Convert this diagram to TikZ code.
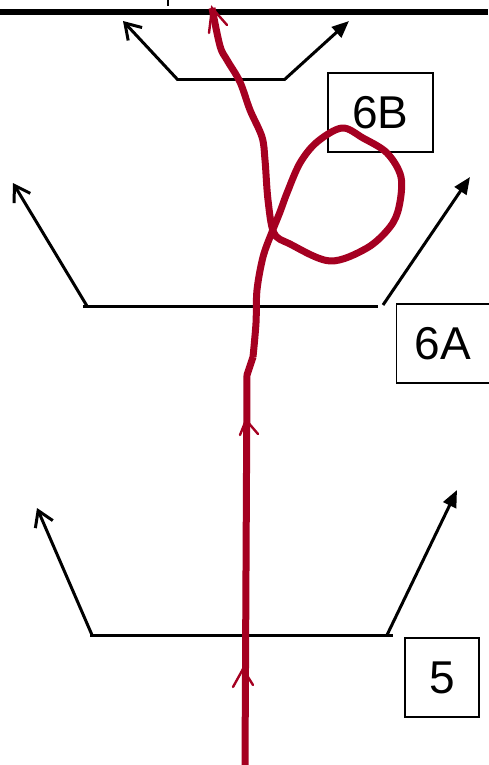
\documentclass[tikz,border=0pt]{standalone}
\usepackage{fontspec}
\setmainfont{Liberation Sans}
\usetikzlibrary{arrows.meta}
\definecolor{crim}{RGB}{165,0,33}
\begin{document}
\begin{tikzpicture}[x=1pt,y=-1pt,
  levelline/.style={line width=3pt,black},
  openarr/.style={line width=3pt,black,-{Straight Barb[length=15pt,width=19pt,line width=3pt]}},
  fillarr/.style={line width=3pt,black,-{Triangle[length=17pt,width=14pt]}},
  labelbox/.style={draw,line width=1.8pt,inner sep=0pt,font=\fontsize{46}{52}\selectfont},
  redpath/.style={line width=7pt,crim,line join=round},
  redbarb/.style={line width=2.4pt,crim,line cap=round}]
\useasboundingbox (0,0) rectangle (488,765);
% top bar and cut-off mark
\draw[line width=6pt] (0,12) -- (488,12);
\draw[line width=2.5pt] (168,0) -- (168,6);
% level 5
\coordinate (l5a) at (90,635); \coordinate (l5b) at (393,635);
\draw[levelline] (l5a) -- (l5b);
\coordinate (l5lt) at (37,508); \coordinate (l5rt) at (457,490);
\draw[openarr] (92,635) -- (l5lt);
\draw[fillarr] (387,635) -- (l5rt);
% level 6A
\coordinate (l6a) at (83,306); \coordinate (l6b) at (378,306);
\draw[levelline] (l6a) -- (l6b);
\draw[openarr] (87,306) -- (13,183);
\draw[fillarr] (383,305) -- (470,177);
% level 6B
\draw[levelline] (177,80) -- (285,80);
\draw[openarr] (178,80) -- (123,21);
\draw[fillarr] (284,80) -- (349,21);
% boxes
\node[labelbox,minimum width=105pt,minimum height=79pt] (b6B) at (380.5,112.5) {6B};
\node[labelbox,minimum width=93pt,minimum height=79pt,anchor=north west] (b6A) at (395.5,303) {6A};
\node[labelbox,minimum width=74pt,minimum height=79pt] (b5) at (442,677.5) {5};
% red path
\draw[redpath] (245,765) -- (247,375) -- (253,357)
  plot[smooth,tension=0.55] coordinates {(253,357) (256,323) (257,290) (263,257) (272,232) (280,212) (287,193) (300,163) (317,142) (342,128) (363,138) (387,153) (401,177) (399,207) (390,227) (367,248) (330,261) (290,244) (274,233) (268,200) (265,160) (262,137) (250,110) (240,82) (227,60) (220,46) (212,8)};
% red arrow barbs
\draw[redbarb] (240,435) -- (246,420) -- (258,434);
\draw[redbarb] (233,687) -- (243,669) -- (253,685);
\draw[redbarb] (209,33) -- (212,8) -- (227,25);
\end{tikzpicture}
\end{document}
